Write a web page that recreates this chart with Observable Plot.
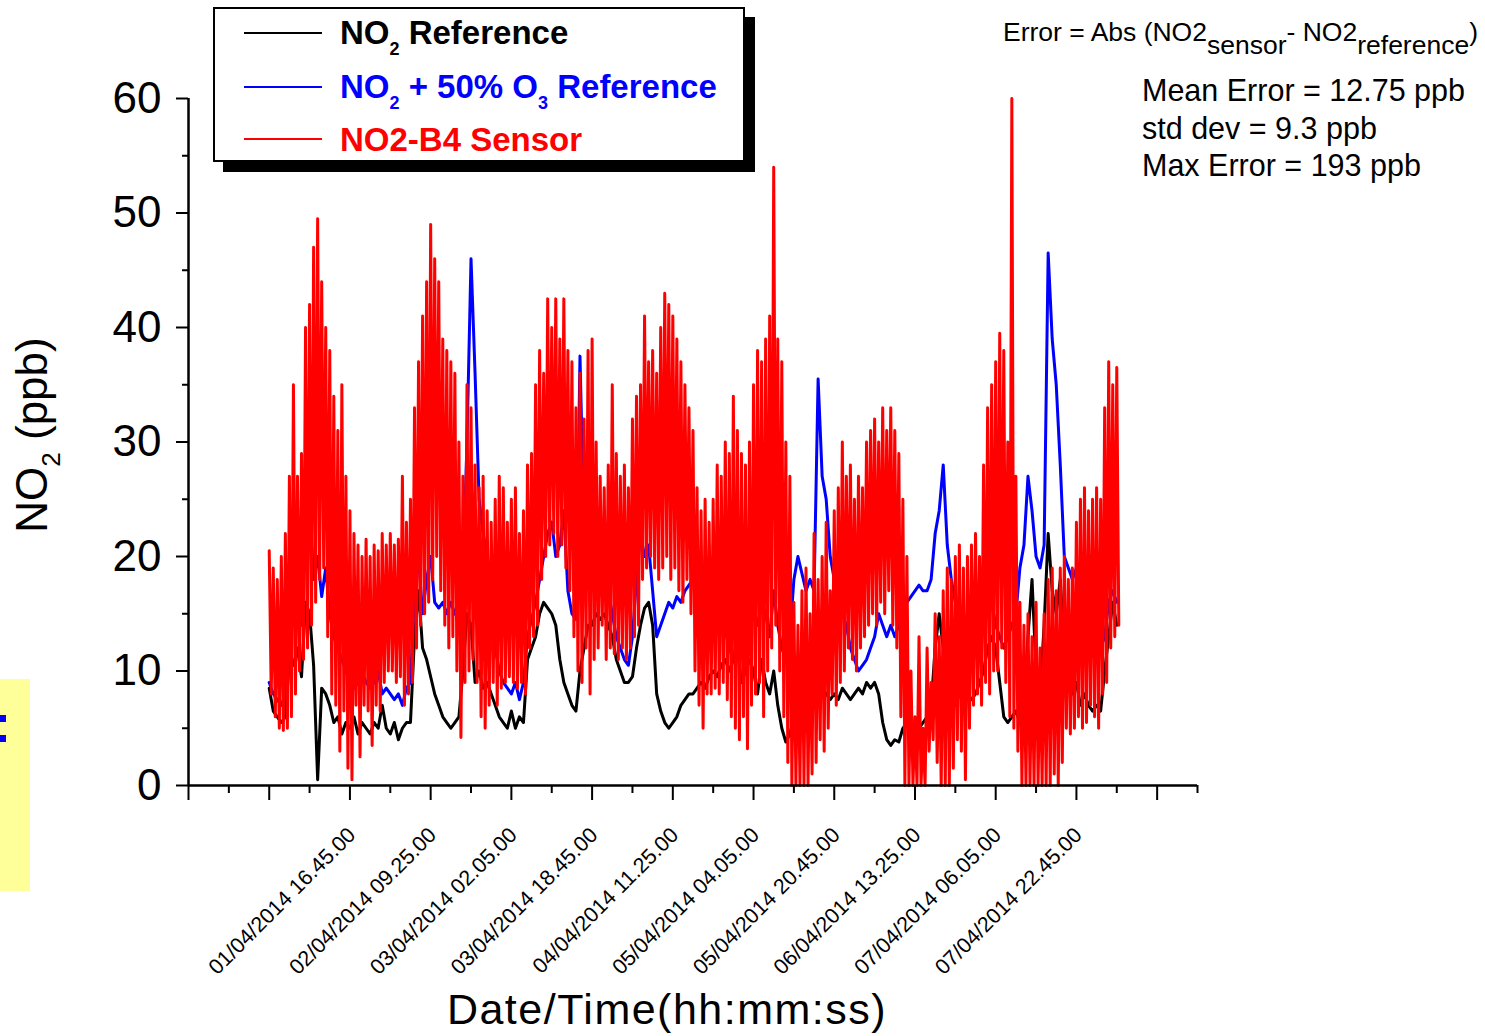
<!DOCTYPE html>
<html><head><meta charset="utf-8">
<script src="https://cdn.jsdelivr.net/npm/d3@7"></script>
<script src="https://cdn.jsdelivr.net/npm/@observablehq/plot@0.6"></script>
<style>
body{margin:0;background:#fff;font-family:"Liberation Sans",Arial,sans-serif;}
#page{position:relative;width:1485px;height:1036px;overflow:hidden;background:#fff;}
#chart{position:absolute;left:0;top:0;}
.abs{position:absolute;white-space:nowrap;line-height:1;}
#yellow{left:0;top:679px;width:30px;height:212px;background:#ffff99;}
.bsq{position:absolute;left:0;width:6px;height:7px;background:#0000ff;}
#shadow{left:223px;top:17px;width:532px;height:155px;background:#000;}
#legend{left:213px;top:7px;width:528px;height:151px;background:#fff;border:2px solid #000;}
.lrow{position:absolute;left:125px;font-weight:bold;font-size:33px;line-height:1;white-space:nowrap;}
.lline{position:absolute;left:29px;width:78px;height:0;border-top:2px solid;}
.lsub{font-size:18px;vertical-align:-11px;}
.ann{position:absolute;white-space:nowrap;line-height:1;color:#000;}
.asub{vertical-align:-13px;}
#ytitle{left:37px;top:435px;font-size:44px;transform:translate(-50%,-50%) rotate(-90deg);}
#ytitle .s{font-size:26px;vertical-align:-13px;}
#xtitle{left:667px;top:988px;font-size:43px;letter-spacing:1.5px;transform:translateX(-50%);}
</style></head><body>
<div id="page">
<div id="chart"></div>
<div class="abs" id="yellow"></div>
<div class="bsq" style="top:715px"></div>
<div class="bsq" style="top:735px"></div>
<div class="abs" id="shadow"></div>
<div class="abs" id="legend">
  <div class="lline" style="top:23px;border-color:#000"></div>
  <div class="lrow" style="top:7px;color:#000">NO<span class="lsub">2</span> Reference</div>
  <div class="lline" style="top:77px;border-color:#0000ff"></div>
  <div class="lrow" style="top:61px;color:#0000ff">NO<span class="lsub">2</span> + 50% O<span class="lsub">3</span> Reference</div>
  <div class="lline" style="top:129px;border-color:#ff0000"></div>
  <div class="lrow" style="top:114px;color:#ff0000">NO2-B4 Sensor</div>
</div>
<div class="ann" style="left:1003px;top:19px;font-size:26.5px">Error = Abs (NO2<span class="asub">sensor</span>- NO2<span class="asub">reference</span>)</div>
<div class="ann" style="left:1142px;top:75px;font-size:30.5px">Mean Error = 12.75 ppb</div>
<div class="ann" style="left:1142px;top:113px;font-size:30.5px">std dev = 9.3 ppb</div>
<div class="ann" style="left:1142px;top:150px;font-size:30.5px">Max Error = 193 ppb</div>
<div class="abs" id="ytitle">NO<span class="s">2</span> (ppb)</div>
<div class="abs" id="xtitle">Date/Time(hh:mm:ss)</div>
</div>
<script>
// ---- data ----
const axisStart = "31/03/2014 07.25.00";
const axisEnd = "08/04/2014 23.45.00";
const dataStart = "01/04/2014 00.05.00";
const stepMinutes = 50;
const tickLabels = ["01/04/2014 16.45.00", "02/04/2014 09.25.00", "03/04/2014 02.05.00", "03/04/2014 18.45.00", "04/04/2014 11.25.00", "05/04/2014 04.05.00", "05/04/2014 20.45.00", "06/04/2014 13.25.00", "07/04/2014 06.05.00", "07/04/2014 22.45.00"];
const yMajorTicks = [0, 10, 20, 30, 40, 50, 60];
const yMinorTicks = [5, 15, 25, 35, 45, 55];

const no2Reference = [8.5, 6.5, 6, 5.5, 6,
 11, 10.5, 12, 9.5, 16,
 15, 10.5, 0.5, 8.5, 8,
 7, 5.5, 6, 4.5, 5.5,
 5, 6, 4.5, 5.5, 5,
 4.5, 5.5, 5, 7, 5,
 4.5, 5.5, 4, 5, 5.5,
 5.5, 13, 17, 12, 11,
 9.5, 8, 7, 6, 5.5,
 5, 5.5, 6, 10, 15,
 14, 9, 10, 8.5, 9,
 8, 7, 6, 5.5, 5,
 6.5, 5, 6, 5.5, 11,
 12, 13, 15, 16, 15.5,
 15, 14, 11, 9, 8,
 7, 6.5, 10, 12, 14,
 14, 15, 14.5, 15, 14,
 13, 11, 10, 9, 9,
 9.5, 12, 14, 15.5, 16,
 14, 8, 6.5, 5.5, 5,
 5.5, 6, 7, 7.5, 8,
 8, 8.5, 9, 8.5, 9.5,
 10, 9.5, 10.5, 11, 10,
 11, 12, 9, 10, 11,
 10, 8, 11, 9, 8,
 10, 7, 5, 3.8, 4.5,
 6, 8, 9, 8.5, 9,
 9, 10, 8.5, 8, 7.5,
 8, 7.5, 8.5, 8, 7.5,
 8, 8.5, 8, 9, 8.5,
 9, 8, 5.5, 4, 3.5,
 4, 3.8, 5, 5.5, 5,
 5.5, 5, 5.5, 6, 7,
 12, 15, 12, 9, 8,
 7, 8, 9, 8, 7.5,
 8, 9, 10, 12, 13,
 12, 9, 6, 5.5, 6,
 6.5, 5.5, 7, 13, 18,
 10, 8, 14, 22, 17,
 15, 18, 12, 10, 8,
 9, 7, 8, 7, 6.5,
 7, 6.5, 10, 13, 16,
 14];

const no2O3Reference = [9, 8, 7.5, 7, 8,
 12, 15, 16.5, 14, 24,
 25, 18, 20, 16.5, 19,
 15, 13, 12, 11, 10,
 9, 8.5, 9, 10, 9,
 8.5, 9, 10, 8, 8.5,
 8, 7.5, 8, 7, 8.5,
 9, 17, 20, 15, 18,
 20, 16, 15.5, 16, 15,
 16, 15, 14.5, 18, 30,
 46, 36, 25, 22, 20,
 18, 12, 10, 9, 8.5,
 8, 9, 7.5, 9, 13,
 14.5, 16, 18, 20, 22,
 23, 20, 21, 24, 17,
 15, 14.5, 37.5, 22, 18,
 17, 18, 19, 18, 17,
 15, 13, 12, 11, 10.5,
 13, 18, 22, 20, 21,
 17, 13, 14, 15, 16,
 15.5, 16.5, 16, 17, 17.5,
 18, 16.5, 17, 16, 17,
 16, 15, 14, 13.5, 12,
 11, 13, 12, 14, 15,
 15, 14, 16, 15, 13,
 17, 14, 12, 11, 13,
 18, 20, 18.5, 17, 18,
 17, 35.5, 27, 25, 20,
 18, 17, 15, 14, 12,
 11, 10, 10.5, 11, 12,
 13, 15, 14, 13, 14,
 13, 14, 15, 16, 16.5,
 17, 17.5, 17, 17, 18,
 22, 24, 28, 21, 18,
 16, 15, 14, 15, 14.5,
 15, 16, 17, 17, 16,
 14, 13, 12, 13, 14,
 15, 19, 21, 27, 24,
 20, 19, 21, 46.5, 39,
 35, 28, 20, 19, 18,
 19, 18, 17, 18, 17,
 16, 12, 13, 16, 17,
 16];

// sensor: upper and lower reading of each sampling interval
const sensorHigh = [20.5, 19, 18, 20, 22,
 27, 35, 27, 29, 40,
 42, 47, 49.5, 44, 40,
 38, 34, 31, 35, 27,
 24, 22, 21, 20, 21.5,
 20, 21, 20.5, 22, 21,
 22, 21, 21.5, 27, 23,
 25, 33, 37, 41, 44,
 49, 46, 44, 39, 38,
 37, 36, 30, 27, 35,
 33, 28, 26, 27, 24,
 23, 25, 27, 26, 23,
 25, 26, 22, 24, 28,
 29, 35, 38, 36, 42.5,
 40, 42.5, 39, 42.5, 38,
 37, 33, 36, 32, 38,
 39, 30, 27, 26, 28,
 35, 29, 27, 28, 26,
 32, 34, 35, 41, 37,
 38, 36, 40, 43, 42,
 41, 39, 37, 35, 33,
 31, 26, 24, 25, 23,
 25, 28, 27, 30, 29,
 34, 31, 29, 28, 30,
 35, 38, 37, 39, 41,
 54, 39, 37, 30, 27,
 16, 14, 17, 19, 15,
 22, 18, 20, 23, 17,
 24, 26, 30, 27, 28,
 25, 27, 26, 30, 31,
 32, 30, 33, 31, 33,
 31, 29, 25, 20, 10,
 6, 13, 5, 12, 9,
 15, 13, 17, 19, 18,
 20, 21, 19, 20, 21,
 22, 20, 28, 33, 35,
 37, 39.5, 38, 30, 60,
 27, 16, 14, 15, 13,
 16, 12, 15, 18, 19,
 17, 19, 20, 18, 19,
 23, 25, 26, 24, 25,
 26, 25, 33, 37, 35,
 36.5];

const sensorLow = [8, 6, 5, 4.8, 5,
 6, 8, 10, 11, 12,
 14, 16, 18, 19, 13,
 8, 7, 3, 6.5, 1.5,
 0.5, 7, 2.5, 7, 6.5,
 3.5, 7, 6.5, 9, 10,
 10, 9, 9.5, 7, 8,
 9, 12, 14, 15, 16,
 18, 20, 17, 14, 12,
 13, 10, 4.2, 9, 10,
 11, 9, 6, 5, 7,
 9, 7, 8.5, 9, 9.5,
 9, 8.5, 9, 8, 12,
 13, 14, 18, 20, 21,
 22, 20, 21, 19, 17,
 13, 10, 9, 12, 8,
 11, 12, 14, 11, 12,
 11.5, 11, 12, 11, 12,
 13, 14, 18, 19, 20,
 19, 18, 19, 20, 18,
 19, 17, 16, 18, 15,
 10, 7, 5, 8, 8,
 8.5, 8, 9, 7.5, 6,
 5, 4, 6, 3.2, 7,
 8, 9, 6, 10, 12,
 14, 10, 6, 2, 0,
 0, 0, 0, 0, 1,
 2, 4, 3, 5, 8,
 7, 9, 10, 12, 11,
 10, 12, 13, 14, 15,
 14, 16, 15, 17, 14,
 12, 6, 0, 0, 0,
 0, 0, 0, 3, 4,
 2, 0, 0, 0, 1.5,
 4, 3, 0.5, 5, 7,
 8, 7, 9, 8, 10,
 10, 12, 9, 6, 5,
 3, 0, 0, 0, 0,
 0, 0, 0, 0, 1,
 0, 2, 5, 4.5, 5,
 6, 5, 5.5, 7, 6,
 5, 8, 9, 12, 13,
 14];

// ---- build ----
const parse = d3.utcParse("%d/%m/%Y %H.%M.%S");
const t0 = parse(axisStart), t1 = parse(axisEnd), ts = parse(dataStart);
const at = (m) => d3.utcMinute.offset(ts, m);
const blackData = no2Reference.map((v, i) => ({t: at(i * stepMinutes), v}));
const blueData = no2O3Reference.map((v, i) => ({t: at(i * stepMinutes), v}));
const redData = [];
sensorHigh.forEach((h, i) => {
  redData.push({t: at(i * stepMinutes), v: h});
  redData.push({t: at(i * stepMinutes + stepMinutes / 2), v: sensorLow[i]});
});
const labelDates = tickLabels.map(parse);
const majorTicks = d3.range(13).map(k => d3.utcMinute.offset(t0, k * 1000));
const minorTicks = d3.range(13).map(k => d3.utcMinute.offset(t0, k * 1000 + 500));
const fmt = d3.utcFormat("%d/%m/%Y %H.%M.%S");

const chart = Plot.plot({
  width: 1485, height: 1036,
  marginLeft: 188, marginRight: 288, marginTop: 98, marginBottom: 251,
  x: {type: "utc", domain: [t0, t1]},
  y: {domain: [0, 60]},
  style: {fontFamily: "'Liberation Sans', Arial, sans-serif", background: "transparent", color: "#000", overflow: "visible"},
  marks: [
    Plot.line(blackData, {x: "t", y: "v", stroke: "#000000", strokeWidth: 3}),
    Plot.line(blueData, {x: "t", y: "v", stroke: "#0000ff", strokeWidth: 3}),
    Plot.line(redData, {x: "t", y: "v", stroke: "#ff0000", strokeWidth: 3}),
    Plot.ruleY([0], {stroke: "#000", strokeWidth: 2.5}),
    Plot.ruleX([t0], {stroke: "#000", strokeWidth: 2.5}),
    Plot.axisY({ticks: yMajorTicks, tickSize: 12, tickPadding: 15, fontSize: 44, strokeWidth: 2, label: null, tickFormat: d => String(d)}),
    Plot.axisY({ticks: yMinorTicks, tickSize: 6, text: null, strokeWidth: 2, label: null}),
    Plot.axisX({ticks: majorTicks, tickSize: 15, text: null, strokeWidth: 2, label: null}),
    Plot.axisX({ticks: minorTicks, tickSize: 8, text: null, strokeWidth: 2, label: null}),
    Plot.text(labelDates, {x: d => d, frameAnchor: "bottom", text: d => fmt(d), rotate: -45, textAnchor: "end", lineAnchor: "middle", dy: 46, dx: 2, fontSize: 21.5, fill: "#000"})
  ]
});
document.getElementById("chart").appendChild(chart);
</script>
</body></html>
